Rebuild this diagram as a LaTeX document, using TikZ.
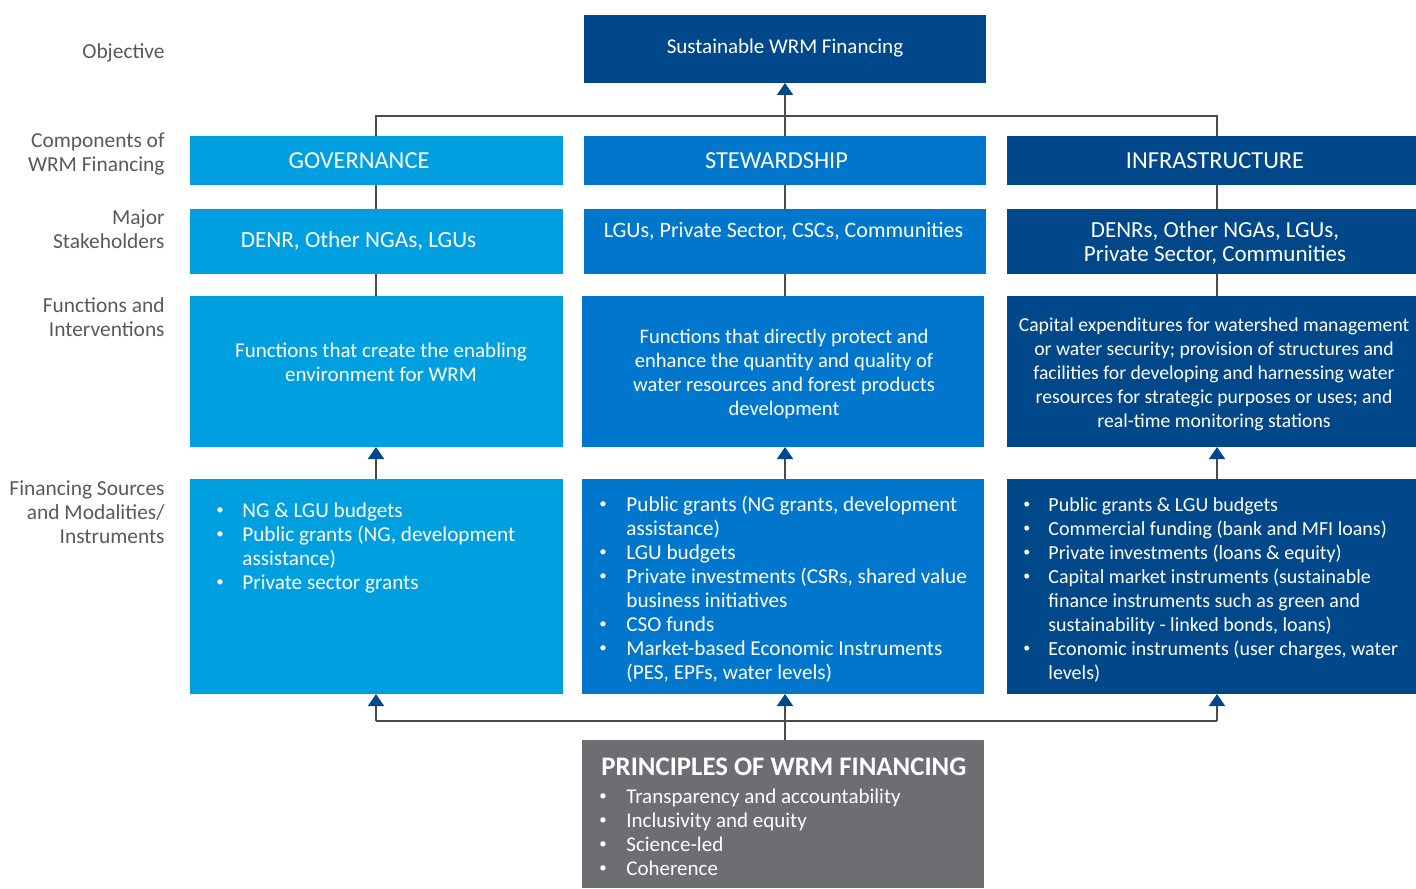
\documentclass[tikz,border=0pt]{standalone}
\usepackage{fontspec}
\setmainfont{Carlito}
\usetikzlibrary{arrows.meta}
\definecolor{lb}{RGB}{0,159,224}
\definecolor{mb}{RGB}{0,119,204}
\definecolor{db}{RGB}{0,72,138}
\definecolor{pg}{RGB}{109,110,113}
\definecolor{lab}{RGB}{88,89,91}
\definecolor{ln}{RGB}{75,75,75}
\newcommand\mlc[1]{\begin{tabular}[t]{@{}c@{}}#1\end{tabular}}
\newcommand\mlr[1]{\begin{tabular}[t]{@{}r@{}}#1\end{tabular}}
\newcommand\blst[2]{\begin{tabular}[t]{@{}p{#1}@{}l@{}}#2\end{tabular}}
\newcommand\bul{\raisebox{0.25ex}{\scalebox{0.7}{•}}}
\begin{document}
\begin{tikzpicture}[x=0.5pt,y=-0.5pt,
  box/.style={anchor=north west, inner sep=0pt, outer sep=0pt, draw=none},
  txt/.style={text=white, font=\fontsize{10.5}{12}\selectfont, inner sep=0pt, anchor=base},
  hdr/.style={text=white, font=\fontsize{13.4}{12}\selectfont\bfseries, inner sep=0pt, anchor=base west},
  lst/.style={text=white, font=\fontsize{10.6}{12}\selectfont, inner sep=0pt, anchor=base west},
  lbl/.style={text=lab, font=\fontsize{10.7}{12}\selectfont, inner sep=0pt, anchor=base east},
  conn/.style={draw=ln, line width=0.8pt},
  arr/.style={conn, -{Triangle[width=8pt,length=6pt,color=db]}},
]
\useasboundingbox (0,0) rectangle (1416,888);

% column coordinates and bar levels
\coordinate (cG) at (376,0);
\coordinate (cS) at (785,0);
\coordinate (cI) at (1217,0);
\coordinate (topbar) at (0,116);
\coordinate (botbar) at (0,721);

% boxes
\node[box, fill=db, minimum width=201pt, minimum height=34pt] (obj) at (584,15) {};

\node[box, fill=lb, minimum width=186.5pt, minimum height=24.5pt] (g1) at (190,136) {};
\node[box, fill=mb, minimum width=201pt, minimum height=24.5pt] (s1) at (584,136) {};
\node[box, fill=db, minimum width=204.5pt, minimum height=24.5pt] (i1) at (1007,136) {};

\node[box, fill=lb, minimum width=186.5pt, minimum height=32.5pt] (g2) at (190,209) {};
\node[box, fill=mb, minimum width=201pt, minimum height=32.5pt] (s2) at (584,209) {};
\node[box, fill=db, minimum width=204.5pt, minimum height=32.5pt] (i2) at (1007,209) {};

\node[box, fill=lb, minimum width=186.5pt, minimum height=75.5pt] (g3) at (190,296) {};
\node[box, fill=mb, minimum width=201pt, minimum height=75.5pt] (s3) at (582,296) {};
\node[box, fill=db, minimum width=204.5pt, minimum height=75.5pt] (i3) at (1007,296) {};

\node[box, fill=lb, minimum width=186.5pt, minimum height=107.5pt] (g4) at (190,479) {};
\node[box, fill=mb, minimum width=201pt, minimum height=107.5pt] (s4) at (582,479) {};
\node[box, fill=db, minimum width=204.5pt, minimum height=107.5pt] (i4) at (1007,479) {};

\node[box, fill=pg, minimum width=201pt, minimum height=74pt] (pr) at (582,740) {};

% texts
\node[txt] (objt) at (785,54) {Sustainable WRM Financing};
\node[txt, font=\fontsize{12.2}{12}\selectfont] (g1t) at (359,168) {GOVERNANCE};
\node[txt, font=\fontsize{12.2}{12}\selectfont] (s1t) at (776.5,168) {STEWARDSHIP};
\node[txt, font=\fontsize{12.2}{12}\selectfont] (i1t) at (1215,168) {INFRASTRUCTURE};

\node[txt, font=\fontsize{11.6}{12}\selectfont] (g2t) at (358.5,247) {DENR, Other NGAs, LGUs};
\node[txt, font=\fontsize{11}{12}\selectfont] (s2t) at (783.5,237) {LGUs, Private Sector, CSCs, Communities};
\node[txt, font=\fontsize{11.5}{12}\selectfont] (i2t) at (1215,237) {\mlc{DENRs, Other NGAs, LGUs,\\Private Sector, Communities}};

\node[txt] (g3t) at (381,357) {\mlc{Functions that create the enabling\\environment for WRM}};
\node[txt, font=\fontsize{10.3}{12}\selectfont] (s3t) at (784,343) {\mlc{Functions that directly protect and\\enhance the quantity and quality of\\water resources and forest products\\development}};
\node[txt, font=\fontsize{9.85}{12}\selectfont] (i3t) at (1214,331) {\mlc{Capital expenditures for watershed management\\or water security; provision of structures and\\facilities for developing and harnessing water\\resources for strategic purposes or uses; and\\real-time monitoring stations}};

\node[lst] (g4t) at (216,517) {\blst{13pt}{%
\bul&NG \& LGU budgets\\
\bul&Public grants (NG, development\\
&assistance)\\
\bul&Private sector grants}};
\node[lst] (s4t) at (599,511) {\blst{13.5pt}{%
\bul&Public grants (NG grants, development\\
&assistance)\\
\bul&LGU budgets\\
\bul&Private investments (CSRs, shared value\\
&business initiatives\\
\bul&CSO funds\\
\bul&Market-based Economic Instruments\\
&(PES, EPFs, water levels)}};
\node[lst, font=\fontsize{10}{12}\selectfont] (i4t) at (1023,511) {\blst{12.5pt}{%
\bul&Public grants \& LGU budgets\\
\bul&Commercial funding (bank and MFI loans)\\
\bul&Private investments (loans \& equity)\\
\bul&Capital market instruments (sustainable\\
&finance instruments such as green and\\
&sustainability - linked bonds, loans)\\
\bul&Economic instruments (user charges, water\\
&levels)}};

\node[hdr] (prh) at (601,775) {PRINCIPLES OF WRM FINANCING};
\node[lst, font=\fontsize{10.5}{12}\selectfont] (prt) at (599,803) {\blst{13.5pt}{%
\bul&Transparency and accountability\\
\bul&Inclusivity and equity\\
\bul&Science-led\\
\bul&Coherence}};

% row labels
\node[lbl] (l1) at (165,59) {Objective};
\node[lbl] (l2) at (165,148) {\mlr{Components of\\WRM Financing}};
\node[lbl] (l3) at (165,224) {\mlr{Major\\Stakeholders}};
\node[lbl] (l4) at (165,312) {\mlr{Functions and\\Interventions}};
\node[lbl] (l5) at (165,495) {\mlr{Financing Sources\\and Modalities/\\Instruments}};

% connectors
\draw[conn] (g1.north -| cG) -- (cG |- topbar) -- (cI |- topbar) -- (i1.north -| cI);
\draw[arr] (s1.north -| cS) -- (obj.south -| cS);

\draw[conn] (g1.south -| cG) -- (g2.north -| cG);
\draw[conn] (s1.south -| cS) -- (s2.north -| cS);
\draw[conn] (i1.south -| cI) -- (i2.north -| cI);
\draw[conn] (g2.south -| cG) -- (g3.north -| cG);
\draw[conn] (s2.south -| cS) -- (s3.north -| cS);
\draw[conn] (i2.south -| cI) -- (i3.north -| cI);

\draw[arr] (g4.north -| cG) -- (g3.south -| cG);
\draw[arr] (s4.north -| cS) -- (s3.south -| cS);
\draw[arr] (i4.north -| cI) -- (i3.south -| cI);

\draw[conn] (cG |- botbar) -- (cI |- botbar);
\draw[arr] (cG |- botbar) -- (g4.south -| cG);
\draw[arr] (cI |- botbar) -- (i4.south -| cI);
\draw[arr] (pr.north -| cS) -- (s4.south -| cS);
\end{tikzpicture}
\end{document}
